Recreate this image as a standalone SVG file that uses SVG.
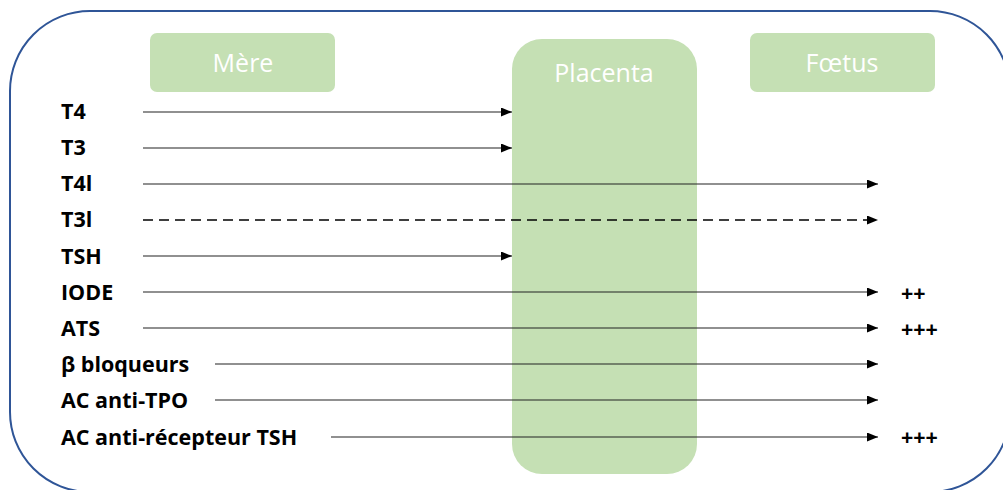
<svg xmlns="http://www.w3.org/2000/svg" width="1003" height="490" viewBox="0 0 1003 490">
<style>
.box{fill:#C5E0B4;}
.ttl{fill:#ffffff;font-family:"Open Sans","Liberation Sans",sans-serif;font-size:25px;text-anchor:middle;}
.lbl{fill:#000000;font-family:"Open Sans","Liberation Sans",sans-serif;font-weight:700;font-size:21.5px;}
.ln{stroke:#222222;stroke-width:1.2;fill:none;}
.dash{stroke:#000000;stroke-width:1.6;stroke-dasharray:10,6;}
</style>
<defs>
<marker id="ah" markerWidth="11" markerHeight="9" refX="11" refY="4.5" orient="auto" markerUnits="userSpaceOnUse">
<path d="M0,0 L11,4.5 L0,9 Z" fill="#000"/>
</marker>
</defs>
<rect x="10" y="11" width="1000" height="481" rx="80" ry="80" fill="#ffffff" stroke="#2F5597" stroke-width="2"/>
<g id="mere"><rect class="box" x="150" y="33" width="185" height="59" rx="7"/><text class="ttl" x="243" y="72">Mère</text></g>
<g id="foetus"><rect class="box" x="750" y="33" width="185" height="59" rx="7"/><text class="ttl" x="842" y="72">Fœtus</text></g>
<g id="placenta"><rect class="box" x="512" y="39" width="185" height="435" rx="30"/><text class="ttl" x="604" y="82">Placenta</text></g>
<g id="labels">
<text class="lbl" x="61" y="119">T4</text>
<text class="lbl" x="61" y="155">T3</text>
<text class="lbl" x="61" y="191">T4l</text>
<text class="lbl" x="61" y="227">T3l</text>
<text class="lbl" x="61" y="264">TSH</text>
<text class="lbl" x="61" y="300">IODE</text>
<text class="lbl" x="61" y="336">ATS</text>
<text class="lbl" x="61" y="372">β bloqueurs</text>
<text class="lbl" x="61" y="408">AC anti-TPO</text>
<text class="lbl" x="61" y="445">AC anti-récepteur TSH</text>
<text class="lbl" x="901" y="301">++</text>
<text class="lbl" x="901" y="337">+++</text>
<text class="lbl" x="901" y="445">+++</text>
</g>
<g id="connectors">
<line class="ln" x1="143" y1="112" x2="512" y2="112" marker-end="url(#ah)"/>
<line class="ln" x1="143" y1="148" x2="512" y2="148" marker-end="url(#ah)"/>
<line class="ln" x1="143" y1="184" x2="878" y2="184" marker-end="url(#ah)"/>
<line class="ln dash" x1="143" y1="220" x2="878" y2="220" marker-end="url(#ah)"/>
<line class="ln" x1="143" y1="256" x2="512" y2="256" marker-end="url(#ah)"/>
<line class="ln" x1="143" y1="292" x2="878" y2="292" marker-end="url(#ah)"/>
<line class="ln" x1="143" y1="328" x2="878" y2="328" marker-end="url(#ah)"/>
<line class="ln" x1="215" y1="364" x2="878" y2="364" marker-end="url(#ah)"/>
<line class="ln" x1="215" y1="400" x2="878" y2="400" marker-end="url(#ah)"/>
<line class="ln" x1="331" y1="437" x2="878" y2="437" marker-end="url(#ah)"/>
</g>
</svg>
